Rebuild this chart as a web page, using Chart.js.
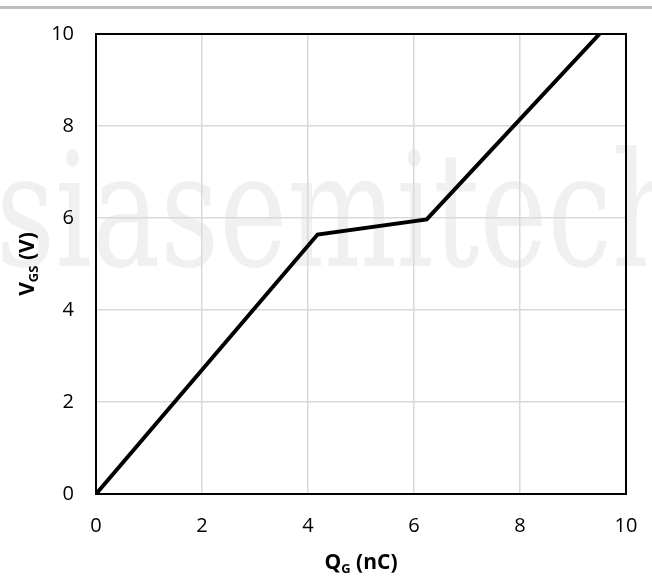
<!DOCTYPE html>
<html>
<head>
<meta charset="utf-8">
<script src="https://cdn.jsdelivr.net/npm/chart.js@4.4.0/dist/chart.umd.min.js"></script>
<style>
html, body { margin: 0; padding: 0; background: #fff; }
#wrap { position: relative; width: 652px; height: 581px; }
#topRule { position: absolute; left: 0; top: 6px; width: 652px; height: 3px; background: #bdbdbd; }
</style>
</head>
<body>
<div id="wrap">
    <canvas id="gateChart" width="652" height="581"></canvas>
    <div id="topRule"></div>
</div>
<script>
// Gate charge curve
const qgValues = [0, 4.18, 6.24, 9.5];      // nC
const vgsValues = [0, 5.64, 5.97, 10];      // V
const xTicks = [0, 2, 4, 6, 8, 10];
const yTicks = [0, 2, 4, 6, 8, 10];

const TICK_FONT = { family: "'Open Sans', sans-serif", size: 20 };

// Faint watermark behind the plot
const watermark = {
    id: 'watermark',
    beforeDraw(chart) {
        const ctx = chart.ctx;
        ctx.save();
        ctx.fillStyle = '#f0f0f0';
        ctx.font = "160px 'DejaVu Serif', serif";
        ctx.textBaseline = 'alphabetic';
        const txt = 'siasemitech';
        const w = ctx.measureText(txt).width;
        ctx.translate(-4, 266);
        ctx.scale(690 / w, 1);
        ctx.fillText(txt, 0, 0);
        ctx.restore();
    }
};

// Frame round the plot and axis titles with subscripts
const frameAndTitles = {
    id: 'frameAndTitles',
    afterDraw(chart) {
        const ctx = chart.ctx;
        const a = chart.chartArea;
        ctx.save();
        ctx.strokeStyle = '#000';
        ctx.lineWidth = 2;
        ctx.strokeRect(a.left, a.top, a.right - a.left, a.bottom - a.top);

        drawSubTitle(ctx, 'Q', 'G', ' (nC)', (a.left + a.right) / 2, 569, 0);
        drawSubTitle(ctx, 'V', 'GS', ' (V)', 34, (a.top + a.bottom) / 2, -Math.PI / 2);
        ctx.restore();
    }
};

function drawSubTitle(ctx, main, sub, rest, cx, cy, angle) {
    const big = "bold 21px 'Open Sans', sans-serif";
    const small = "bold 13px 'Open Sans', sans-serif";
    ctx.save();
    ctx.translate(cx, cy);
    ctx.rotate(angle);
    ctx.fillStyle = '#000';
    ctx.textBaseline = 'alphabetic';
    ctx.textAlign = 'left';
    ctx.font = big;
    const w1 = ctx.measureText(main).width;
    const w3 = ctx.measureText(rest).width;
    ctx.font = small;
    const w2 = ctx.measureText(sub).width;
    let x = -(w1 + w2 + w3) / 2;
    ctx.font = big;
    ctx.fillText(main, x, 0);
    x += w1;
    ctx.font = small;
    ctx.fillText(sub, x, 4);
    x += w2;
    ctx.font = big;
    ctx.fillText(rest, x, 0);
    ctx.restore();
}

document.addEventListener("DOMContentLoaded", () => {
    const ctx = document.getElementById('gateChart').getContext('2d');

    new Chart(ctx, {
        type: 'line',
        data: {
            datasets: [{
                data: qgValues.map((q, i) => ({ x: q, y: vgsValues[i] })),
                borderColor: '#000',
                borderWidth: 4,
                pointRadius: 0,
                fill: false,
                tension: 0
            }]
        },
        options: {
            responsive: false,
            animation: false,
            devicePixelRatio: 1,
            layout: { padding: { top: 34, right: 26, left: 0, bottom: 0 } },
            scales: {
                x: {
                    type: 'linear',
                    min: 0,
                    max: 10,
                    afterBuildTicks: s => { s.ticks = xTicks.map(v => ({ value: v })); },
                    afterFit: s => { s.height = 87; s.paddingLeft = 0; s.paddingRight = 0; },
                    ticks: { font: TICK_FONT, color: '#000', padding: 20 },
                    grid: { color: '#d9d9d9', lineWidth: 1.5, drawTicks: false },
                    border: { display: false }
                },
                y: {
                    type: 'linear',
                    min: 0,
                    max: 10,
                    afterBuildTicks: s => { s.ticks = yTicks.map(v => ({ value: v })); },
                    afterFit: s => { s.width = 96; s.paddingTop = 0; s.paddingBottom = 0; },
                    ticks: { font: TICK_FONT, color: '#000', padding: 22 },
                    grid: { color: '#d9d9d9', lineWidth: 1.5, drawTicks: false },
                    border: { display: false }
                }
            },
            plugins: {
                legend: { display: false },
                tooltip: { enabled: false }
            }
        },
        plugins: [watermark, frameAndTitles]
    });
});
</script>
</body>
</html>
